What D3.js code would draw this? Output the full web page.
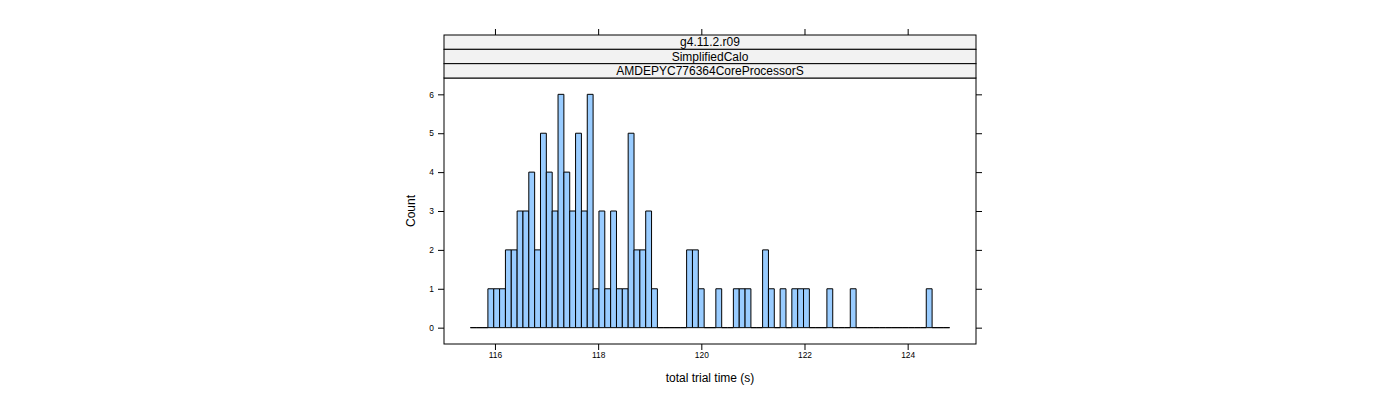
<!DOCTYPE html>
<html>
<head>
<meta charset="utf-8">
<script src="https://cdn.jsdelivr.net/npm/d3@7"></script>
<style>
  html, body { margin: 0; padding: 0; background: #fff; }
  svg { display: block; font-family: "Liberation Sans", Arial, sans-serif; }
</style>
</head>
<body>
<svg id="chart" width="1400" height="400"></svg>
<script>
// ---- data ----
const stripLabels = ["g4.11.2.r09", "SimplifiedCalo", "AMDEPYC776364CoreProcessorS"];
const binStart = 115.523;
const binWidth = 0.1133;
const counts = [
  0, 0, 0,
  1, 1, 1, 2, 2, 3, 3, 4, 2, 5, 4, 3, 6, 4, 3, 5, 3, 6, 1, 3, 1, 3, 1, 1, 5, 2, 2, 3, 1,
  0, 0, 0, 0, 0,
  2, 2, 1, 0, 0, 1, 0, 0, 1, 1, 1, 0, 0, 2, 1, 0, 1, 0, 1, 1, 1, 0, 0, 0, 1, 0, 0, 0, 1,
  0, 0, 0, 0, 0, 0, 0, 0, 0, 0, 0, 0,
  1,
  0, 0, 0
];
const xTicks = [116, 118, 120, 122, 124];
const yTicks = [0, 1, 2, 3, 4, 5, 6];
const xTitle = "total trial time (s)";
const yTitle = "Count";

// ---- layout ----
const panel = { left: 444, right: 976, top: 78, bottom: 344 };
const stripTop = 35;
const stripH = (panel.top - stripTop) / stripLabels.length;

const bins = counts.map((c, i) => ({ x0: binStart + i * binWidth, x1: binStart + (i + 1) * binWidth, count: c }));
const bLo = bins[0].x0, bHi = bins[bins.length - 1].x1;
const xPad = (bHi - bLo) * 0.055;
const x = d3.scaleLinear().domain([bLo - xPad, bHi + xPad]).range([panel.left, panel.right]);
const yMax = d3.max(counts);
const y = d3.scaleLinear().domain([-0.07 * yMax, 1.07 * yMax]).range([panel.bottom, panel.top]);

const svg = d3.select("#chart");

// bars
svg.append("g").selectAll("path").data(bins).join("path")
  .attr("d", d => {
    const x0 = x(d.x0), x1 = x(d.x1), y0 = y(0), y1 = y(d.count);
    return `M${x0},${y0}V${y1}H${x1}V${y0}Z`;
  })
  .attr("fill", "#99CCFF")
  .attr("stroke", "#000")
  .attr("stroke-width", 1);

// panel border
svg.append("rect")
  .attr("x", panel.left).attr("y", panel.top)
  .attr("width", panel.right - panel.left).attr("height", panel.bottom - panel.top)
  .attr("fill", "none").attr("stroke", "#000").attr("stroke-width", 1);

// strips
const strips = svg.append("g");
stripLabels.forEach((lab, i) => {
  const sy = stripTop + i * stripH;
  strips.append("rect")
    .attr("x", panel.left).attr("y", sy)
    .attr("width", panel.right - panel.left).attr("height", stripH)
    .attr("fill", "#F2F2F2").attr("stroke", "#000").attr("stroke-width", 1);
  strips.append("text")
    .attr("x", (panel.left + panel.right) / 2).attr("y", sy + stripH / 2)
    .attr("dy", "0.36em")
    .attr("text-anchor", "middle")
    .attr("font-size", 12)
    .attr("fill", "#000")
    .text(lab);
});

// axes
const tickLen = 6;
const bottomAxis = d3.axisBottom(x).tickValues(xTicks).tickSize(tickLen).tickPadding(2).tickFormat(d3.format("d"));
const gb = svg.append("g").attr("transform", `translate(0,${panel.bottom})`).call(bottomAxis);
const topAxis = d3.axisTop(x).tickValues(xTicks).tickSize(tickLen).tickFormat("");
const gt = svg.append("g").attr("transform", `translate(0,${stripTop})`).call(topAxis);
const leftAxis = d3.axisLeft(y).tickValues(yTicks).tickSize(tickLen).tickPadding(4).tickFormat(d3.format("d"));
const gl = svg.append("g").attr("transform", `translate(${panel.left},0)`).call(leftAxis);
const rightAxis = d3.axisRight(y).tickValues(yTicks).tickSize(tickLen).tickFormat("");
const gr = svg.append("g").attr("transform", `translate(${panel.right},0)`).call(rightAxis);

[gb, gt, gl, gr].forEach(g => {
  g.select(".domain").remove();
  g.selectAll("line").attr("stroke", "#000");
  g.selectAll("text").attr("font-size", 8.4).attr("fill", "#000")
    .attr("font-family", "'Liberation Sans', Arial, sans-serif");
});

// titles
svg.append("text")
  .attr("x", (panel.left + panel.right) / 2).attr("y", 382)
  .attr("text-anchor", "middle").attr("font-size", 12).attr("fill", "#000")
  .text(xTitle);
svg.append("text")
  .attr("transform", `translate(415,${(panel.top + panel.bottom) / 2}) rotate(-90)`)
  .attr("text-anchor", "middle").attr("font-size", 12).attr("fill", "#000")
  .text(yTitle);
</script>
</body>
</html>
